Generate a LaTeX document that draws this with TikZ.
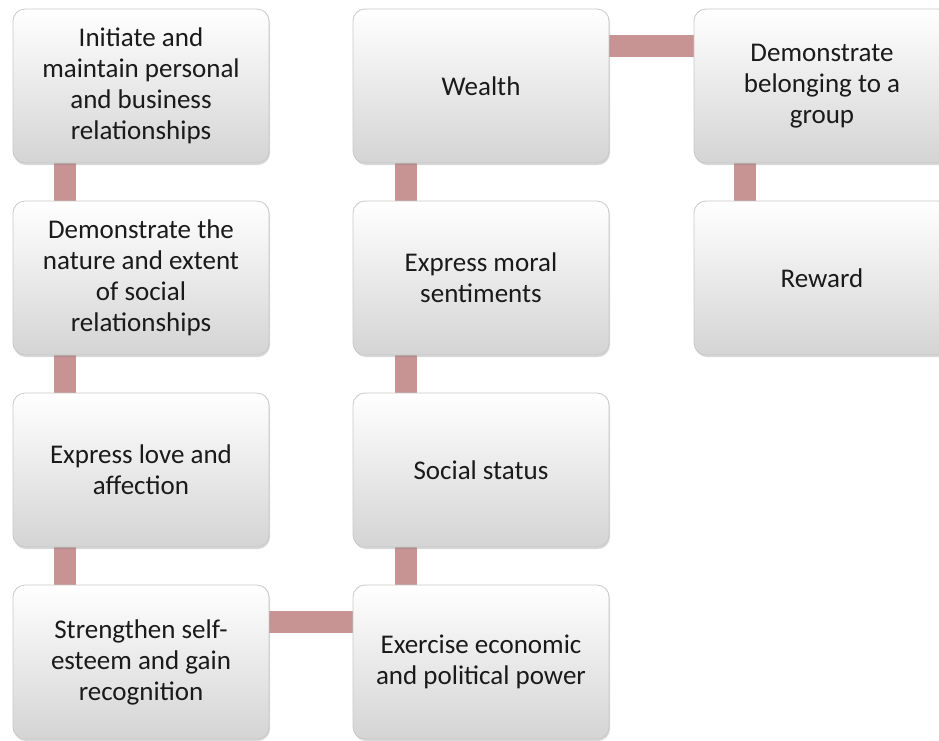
\documentclass[tikz,border=0pt]{standalone}
\usepackage{fontspec}
\setmainfont{Carlito}
\usetikzlibrary{shadows,backgrounds}
\definecolor{barcol}{HTML}{C79393}
\definecolor{boxline}{HTML}{C8C8C8}
\definecolor{boxbot}{HTML}{D4D4D4}
\definecolor{txt}{HTML}{1A1A1A}
\tikzset{
  box/.style={rounded corners=12pt, draw=boxline, line width=0.8pt,
    top color=white, bottom color=boxbot, minimum width=256pt, minimum height=154pt,
    align=center, font=\fontsize{27}{31}\selectfont, text=txt,
    drop shadow={shadow xshift=1pt, shadow yshift=-2pt, opacity=0.3, fill=gray}},
  bar/.style={line width=22pt, draw=barcol}
}
\begin{document}
\begin{tikzpicture}[x=1pt,y=-1pt]
\useasboundingbox (0,0) rectangle (939,740);
\node[box] (a1) at (141,86) {Initiate and\\maintain personal\\and business\\relationships};
\node[box] (a2) at (141,278) {Demonstrate the\\nature and extent\\of social\\relationships};
\node[box] (a3) at (141,470) {Express love and\\affection};
\node[box] (a4) at (141,662) {Strengthen self-\\esteem and gain\\recognition};
\node[box] (b4) at (481,662) {Exercise economic\\and political power};
\node[box] (b3) at (481,470) {Social status};
\node[box] (b2) at (481,278) {Express moral\\sentiments};
\node[box] (b1) at (481,86) {Wealth};
\node[box] (c1) at (822,86) {Demonstrate\\belonging to a\\group};
\node[box] (c2) at (822,278) {Reward};
\begin{scope}[on background layer]
\draw[bar] ([xshift=52pt]a1.south west) -- ([xshift=52pt]a2.north west);
\draw[bar] ([xshift=52pt]a2.south west) -- ([xshift=52pt]a3.north west);
\draw[bar] ([xshift=52pt]a3.south west) -- ([xshift=52pt]a4.north west);
\draw[bar] ([yshift=-37pt]a4.north east) -- ([yshift=-37pt]b4.north west);
\draw[bar] ([xshift=53pt]b4.north west) -- ([xshift=53pt]b3.south west);
\draw[bar] ([xshift=53pt]b3.north west) -- ([xshift=53pt]b2.south west);
\draw[bar] ([xshift=53pt]b2.north west) -- ([xshift=53pt]b1.south west);
\draw[bar] ([yshift=-37pt]b1.north east) -- ([yshift=-37pt]c1.north west);
\draw[bar] ([xshift=51pt]c1.south west) -- ([xshift=51pt]c2.north west);
\end{scope}
\end{tikzpicture}
\end{document}
